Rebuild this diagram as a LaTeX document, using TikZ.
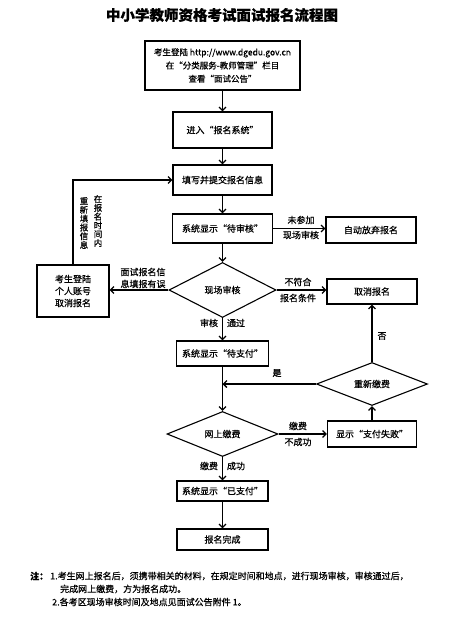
\documentclass[tikz,border=0pt]{standalone}
\usepackage{fontspec}
\setmainfont{Noto Sans CJK SC}[FakeBold=0.6]
\usetikzlibrary{arrows.meta,shapes.geometric}
\newcommand{\fsnine}{\fontsize{9}{12}\selectfont}
\begin{document}
\begin{tikzpicture}[x=1pt,y=-1pt,
  box/.style={draw, line width=1.1pt, inner sep=1pt, align=center, font=\fsnine},
  dia/.style={draw, diamond, line width=1.1pt, inner sep=0pt, aspect=2, font=\fsnine},
  arr/.style={line width=1.3pt, -{Straight Barb[length=3.5pt,width=7pt]}},
  lbl/.style={font=\fsnine, inner sep=0pt},
  vtxt/.style={font=\fontsize{8.5}{8.8}\selectfont, align=center, inner sep=0pt},
  note/.style={font=\fontsize{9}{10}\selectfont, anchor=west, inner sep=0pt}]
\useasboundingbox[fill=white] (0,0) rectangle (452,623);

\node[font=\fontsize{14.5}{16}\selectfont\bfseries] (title) at (222,15) {中小学教师资格考试面试报名流程图};

\node[box, minimum width=155pt, minimum height=49pt, font=\fontsize{8.5}{13.3}\selectfont] (b1) at (222.5,65.5)
  {考生登陆 http://www.dgedu.gov.cn\\在“分类服务-教师管理”栏目\\查看“面试公告”};
\node[box, minimum width=99pt, minimum height=36pt] (b2) at (222.5,130) {进入“报名系统”};
\node[box, minimum width=99pt, minimum height=30pt] (b3) at (222.5,180) {填写并提交报名信息};
\node[box, minimum width=100pt, minimum height=29pt] (b4) at (222.5,228.5) {系统显示“待审核”};
\node[box, minimum width=90pt, minimum height=26pt] (auto) at (371,230) {自动放弃报名};
\node[dia, minimum width=107pt, minimum height=55pt] (d1) at (222.5,290) {现场审核};
\node[box, minimum width=72pt, minimum height=52pt] (left) at (73,291) {考生登陆\\个人账号\\取消报名};
\node[box, minimum width=90pt, minimum height=25pt] (cancel) at (372,291.5) {取消报名};
\node[box, minimum width=92pt, minimum height=25pt] (pay) at (222.5,353.5) {系统显示“待支付”};
\node[dia, minimum width=111pt, minimum height=43pt] (d2) at (372,384) {重新缴费};
\node[dia, minimum width=111pt, minimum height=45pt] (d3) at (222.5,434) {网上缴费};
\node[box, minimum width=89pt, minimum height=26pt] (fail) at (372,434) {显示“支付失败”};
\node[box, minimum width=91pt, minimum height=20pt] (paid) at (222.5,491) {系统显示“已支付”};
\node[box, minimum width=91pt, minimum height=21pt] (done) at (222.5,539.5) {报名完成};

% main flow
\draw[arr] (b1) -- (b2);
\draw[arr] (b2) -- (b3);
\draw[arr] (b3) -- (b4);
\draw[arr] (b4) -- (d1);
\draw[arr] (d1) -- (pay);
\draw[arr] (pay) -- (d3);
\draw[arr] (d3) -- (paid);
\draw[arr] (paid) -- (done);

% side branches
\draw[arr] (b4.east) -- (b4.east -| auto.west);
\draw[arr] (d1.west) -- (d1.west -| left.east);
\draw[arr] (d1.east) -- (d1.east -| cancel.west);
\draw[arr] (left.north) -- (left.north |- b3.west) -- (b3.west);
\draw[arr] (d3.east) -- (fail.west);
\draw[arr] (fail.north) -- (d2.south);
\draw[arr] (d2.north) -- (cancel.south);
\draw[arr] (d2.west) -- (d2.west -| pay.south);

% labels
\node[lbl] (l1) at (301,220) {未参加};
\node[lbl] (l2) at (301,235) {现场审核};
\node[lbl, align=center, font=\fontsize{9}{12}\selectfont] (l3) at (143,278) {面试报名信\\息填报有误};
\node[lbl] (l4) at (298,282) {不符合};
\node[lbl] (l5) at (298,298) {报名条件};
\node[lbl] (l6) at (209,323) {审核};
\node[lbl] (l7) at (236,323) {通过};
\node[lbl] (l8) at (277,373) {是};
\node[lbl] (l9) at (382,336) {否};
\node[lbl] (l10) at (298,426) {缴费};
\node[lbl] (l11) at (298,442) {不成功};
\node[lbl] (l12) at (209,466) {缴费};
\node[lbl] (l13) at (236,466) {成功};
\node[vtxt] (v1) at (98,221) {在\\报\\名\\时\\间\\内};
\node[vtxt] (v2) at (84,223) {重\\新\\填\\报\\信\\息};

% notes
\node[note, font=\fontsize{9}{10}\selectfont\bfseries] (n0) at (30,576) {注：};
\node[note] (n1) at (50,576) {1.考生网上报名后，须携带相关的材料，在规定时间和地点，进行现场审核，审核通过后，};
\node[note] (n2) at (60,589) {完成网上缴费，方为报名成功。};
\node[note] (n3) at (52,602) {2.各考区现场审核时间及地点见面试公告附件 1。};
\end{tikzpicture}
\end{document}
